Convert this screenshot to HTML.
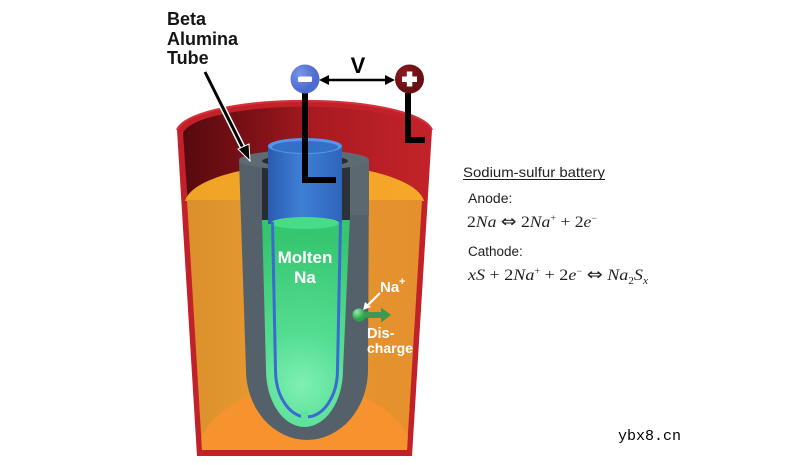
<!DOCTYPE html>
<html><head><meta charset="utf-8">
<style>
html,body{margin:0;padding:0;background:#fff;width:799px;height:465px;overflow:hidden;position:relative;}
svg{display:block;position:absolute;left:0;top:0;overflow:hidden;}
</style></head>
<body>
<svg width="799" height="465" viewBox="0 0 799 465" xmlns="http://www.w3.org/2000/svg">
<defs>
  <linearGradient id="wall" x1="183" y1="0" x2="426" y2="0" gradientUnits="userSpaceOnUse">
    <stop offset="0" stop-color="#560a0e"/>
    <stop offset="0.3" stop-color="#7e1117"/>
    <stop offset="0.55" stop-color="#aa1a21"/>
    <stop offset="1" stop-color="#c22329"/>
  </linearGradient>
  <linearGradient id="face" x1="187" y1="0" x2="422" y2="0" gradientUnits="userSpaceOnUse">
    <stop offset="0" stop-color="#db902c"/>
    <stop offset="0.3" stop-color="#e5992f"/>
    <stop offset="1" stop-color="#e5902e"/>
  </linearGradient>
  <linearGradient id="topsurf" x1="185" y1="0" x2="424" y2="0" gradientUnits="userSpaceOnUse">
    <stop offset="0" stop-color="#f0a425"/>
    <stop offset="1" stop-color="#f6a72a"/>
  </linearGradient>
  <radialGradient id="green" cx="302" cy="385" r="150" gradientUnits="userSpaceOnUse">
    <stop offset="0" stop-color="#7ff0b2"/>
    <stop offset="0.35" stop-color="#54dd92"/>
    <stop offset="1" stop-color="#36c66f"/>
  </radialGradient>
  <linearGradient id="blue" x1="268" y1="0" x2="342" y2="0" gradientUnits="userSpaceOnUse">
    <stop offset="0" stop-color="#2a5cb0"/>
    <stop offset="0.45" stop-color="#3f7fd6"/>
    <stop offset="1" stop-color="#2f64bb"/>
  </linearGradient>
  <radialGradient id="negc" cx="300" cy="74" r="16" gradientUnits="userSpaceOnUse">
    <stop offset="0" stop-color="#7b95ea"/>
    <stop offset="1" stop-color="#4d6bd0"/>
  </radialGradient>
  <radialGradient id="posc" cx="405" cy="74" r="16" gradientUnits="userSpaceOnUse">
    <stop offset="0" stop-color="#8e1a20"/>
    <stop offset="1" stop-color="#6a0e13"/>
  </radialGradient>
  <radialGradient id="ball" cx="357" cy="312" r="7" gradientUnits="userSpaceOnUse">
    <stop offset="0" stop-color="#8ff0a8"/>
    <stop offset="1" stop-color="#2fa64f"/>
  </radialGradient>
  <clipPath id="faceclip"><path d="M187,200 L422,200 L407,450 L202,450 Z"/></clipPath>
</defs>

<!-- container -->
<path d="M177,130 A128,32 0 0 1 432,130 L412,456 L197,456 Z" fill="#c22129"/>
<path d="M183,133 A122,29 0 0 1 426,133 L421,205 L188,205 Z" fill="url(#wall)"/>
<path d="M177,130 A128,32 0 0 1 432,130" fill="none" stroke="#d6323a" stroke-width="2"/>
<!-- sulfur -->
<path d="M185,201 A120,40 0 0 1 424,201 Z" fill="url(#topsurf)"/>
<path d="M187,200 L422,200 L407,450 L202,450 Z" fill="url(#face)"/>
<g clip-path="url(#faceclip)">
  <ellipse cx="305" cy="458" rx="108" ry="72" fill="#f7932e"/>
</g>

<!-- beta alumina tube -->
<path d="M239,160 L246,370 A61,70 0 0 0 368,370 L369,160 Z" fill="#55616a"/>
<path d="M348,160 L369,160 L369,215 L349,215 Z" fill="#5c6870"/>
<path d="M262,215 L266,370 A38.5,57 0 0 0 343,370 L350,215 Z" fill="url(#green)"/>
<rect x="262" y="158" width="7" height="62" fill="#272d32"/>
<rect x="341" y="158" width="9" height="62" fill="#2c3338"/>
<ellipse cx="304" cy="160" rx="65" ry="10" fill="#5f6b73"/>
<ellipse cx="305" cy="161" rx="43" ry="6" fill="#272d32"/>

<!-- blue tube -->
<rect x="268" y="146" width="74" height="78" fill="url(#blue)"/>
<ellipse cx="305" cy="223" rx="34" ry="6" fill="#49dc88"/>
<ellipse cx="305" cy="146" rx="37" ry="8" fill="#5596ea"/>
<ellipse cx="305" cy="147" rx="33" ry="6" fill="#3470c6"/>
<path d="M272.5,222 L275.5,370 A31,47 0 0 0 337.5,370 L340.5,222" fill="none" stroke="#3a6bd2" stroke-width="3"/>
<rect x="301" y="411" width="7" height="10" fill="#5fe29c"/>

<!-- wires -->
<path d="M305,93 L305,180 L336,180" fill="none" stroke="#000" stroke-width="6"/>
<path d="M408,93 L408,140 L425,140" fill="none" stroke="#000" stroke-width="6"/>

<!-- terminals -->
<circle cx="305" cy="79" r="14.5" fill="url(#negc)"/>
<rect x="298" y="76.5" width="14" height="5.5" rx="1.5" fill="#fff"/>
<circle cx="409.5" cy="79" r="14.5" fill="url(#posc)"/>
<rect x="402" y="76.5" width="15" height="5.5" fill="#fff"/>
<rect x="406.8" y="71.5" width="5.5" height="15" fill="#fff"/>

<!-- V arrow -->
<line x1="326" y1="80" x2="388" y2="80" stroke="#000" stroke-width="2.5"/>
<polygon points="319,80 329,75 329,85" fill="#000"/>
<polygon points="395,80 385,75 385,85" fill="#000"/>
<text x="358" y="73" font-family="Liberation Sans, sans-serif" font-weight="bold" font-size="22" text-anchor="middle" fill="#000">V</text>

<!-- Beta alumina label -->
<g font-family="Liberation Sans, sans-serif" font-weight="bold" font-size="18" fill="#151515">
  <text x="167" y="25">Beta</text>
  <text x="167" y="45">Alumina</text>
  <text x="167" y="64">Tube</text>
</g>
<line x1="205" y1="72" x2="244" y2="150" stroke="#fff" stroke-width="6"/>
<line x1="205" y1="72" x2="244" y2="150" stroke="#000" stroke-width="3"/>
<polygon points="250,161 238,149 249,144" fill="#000" stroke="#fff" stroke-width="1"/>

<!-- Molten Na -->
<g font-family="Liberation Sans, sans-serif" font-weight="bold" fill="#fff" text-anchor="middle">
  <text x="305" y="263" font-size="17">Molten</text>
  <text x="305" y="283" font-size="17">Na</text>
</g>
<g font-family="Liberation Sans, sans-serif" font-weight="bold" fill="#fff">
  <text x="380" y="292" font-size="15">Na</text>
  <text x="399" y="285" font-size="11">+</text>
  <text x="367" y="338" font-size="14.5">Dis-</text>
  <text x="367" y="353" font-size="14">charge</text>
</g>
<line x1="380" y1="293" x2="367" y2="306" stroke="#fff" stroke-width="2"/>
<polygon points="363,310 365,302 371,307" fill="#fff"/>
<rect x="363" y="312" width="19" height="6" fill="#3c9a4e"/>
<polygon points="381,307.5 391,315 381,322.5" fill="#3c9a4e"/>
<circle cx="359" cy="315" r="6.5" fill="url(#ball)"/>

<!-- right text -->
<g font-family="Liberation Sans, sans-serif" fill="#1e1e1e">
  <text x="463" y="177" font-size="14" textLength="142" lengthAdjust="spacingAndGlyphs">Sodium-sulfur battery</text>
  <line x1="463" y1="179.5" x2="605" y2="179.5" stroke="#1e1e1e" stroke-width="1"/>
  <text x="468" y="203" font-size="14">Anode:</text>
  <text x="468" y="256" font-size="13.5">Cathode:</text>
</g>
<g font-family="Liberation Serif, DejaVu Serif, serif" font-size="16" fill="#1e1e1e">
  <text x="467" y="227" textLength="130" lengthAdjust="spacingAndGlyphs">2<tspan font-style="italic">Na</tspan> <tspan font-size="17" font-family="DejaVu Sans, sans-serif">⇔</tspan> 2<tspan font-style="italic">Na</tspan><tspan font-size="9" dy="-6">+</tspan><tspan dy="6"> + 2</tspan><tspan font-style="italic">e</tspan><tspan font-size="9" dy="-6">−</tspan></text>
  <text x="468" y="280" textLength="180" lengthAdjust="spacingAndGlyphs"><tspan font-style="italic">xS</tspan> + 2<tspan font-style="italic">Na</tspan><tspan font-size="9" dy="-6">+</tspan><tspan dy="6"> + 2</tspan><tspan font-style="italic">e</tspan><tspan font-size="9" dy="-6">−</tspan><tspan dy="6"> </tspan><tspan font-size="17" font-family="DejaVu Sans, sans-serif">⇔</tspan><tspan> </tspan><tspan font-style="italic">Na</tspan><tspan font-size="10" dy="4">2</tspan><tspan font-style="italic" dy="-4">S</tspan><tspan font-style="italic" font-size="10" dy="4">x</tspan></text>
</g>

<!-- watermark -->
<text x="618" y="440" font-family="Liberation Mono, monospace" font-size="15" fill="#000">ybx8.cn</text>
</svg>
</body></html>
